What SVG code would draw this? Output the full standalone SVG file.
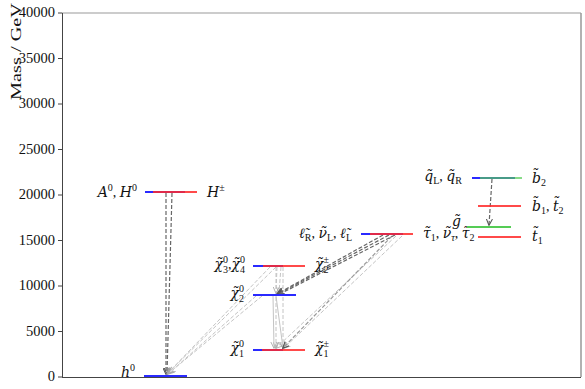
<svg xmlns="http://www.w3.org/2000/svg" width="585" height="389" viewBox="0 0 585 389">
<style>
text{font-family:"Liberation Serif","DejaVu Serif",serif;font-size:14px;fill:#111}
.tick{font-size:14.5px}
.m{font-style:italic;font-family:"DejaVu Serif",serif;font-size:14px}
.sp,.sb{font-size:10px}
.lv{stroke-width:2;fill:none}
.b{stroke:#2a2aff}
.r{stroke:#ff2a2a;stroke-opacity:0.85}
.g{stroke:#55cc55}
.gt{stroke:#55cc55;stroke-opacity:0.7}
.dk{stroke:#666;stroke-width:1.2;stroke-dasharray:4 2;fill:none;marker-end:url(#ad)}
.lt{stroke:#c4c4c4;stroke-width:1;stroke-dasharray:4 2;fill:none;marker-end:url(#al)}
.ls{stroke:#c4c4c4;stroke-width:1;fill:none;marker-end:url(#al)}
</style>
<defs>
<marker id="ad" viewBox="0 0 8 8" refX="7" refY="4" markerWidth="7" markerHeight="7" markerUnits="userSpaceOnUse" orient="auto"><path d="M0,0.5 L7.5,4 L0,7.5" fill="none" stroke="#555" stroke-width="1.2"/></marker>
<marker id="al" viewBox="0 0 8 8" refX="7" refY="4" markerWidth="7" markerHeight="7" markerUnits="userSpaceOnUse" orient="auto"><path d="M0,0.5 L7.5,4 L0,7.5" fill="none" stroke="#aaa" stroke-width="1"/></marker>
</defs>
<rect width="585" height="389" fill="#fff"/>
<g id="axes">
<line x1="62" y1="13" x2="581" y2="13" stroke="#999" stroke-width="1"/>
<line x1="581" y1="13" x2="581" y2="377" stroke="#999" stroke-width="1.5"/>
<line x1="62" y1="377.5" x2="581" y2="377.5" stroke="#444" stroke-width="1"/>
<line x1="62.5" y1="13" x2="62.5" y2="378" stroke="#444" stroke-width="1"/>
<g stroke="#444" stroke-width="1">
<line x1="58" y1="377" x2="62" y2="377"/><line x1="58" y1="331.5" x2="62" y2="331.5"/><line x1="58" y1="286" x2="62" y2="286"/><line x1="58" y1="240.5" x2="62" y2="240.5"/><line x1="58" y1="195" x2="62" y2="195"/><line x1="58" y1="149.5" x2="62" y2="149.5"/><line x1="58" y1="104" x2="62" y2="104"/><line x1="58" y1="58.5" x2="62" y2="58.5"/><line x1="58" y1="13" x2="62" y2="13"/>
</g>
<g class="tick" text-anchor="end">
<text class="tick" x="55" y="381">0</text>
<text class="tick" x="55" y="335.5">5000</text>
<text class="tick" x="55" y="290">10000</text>
<text class="tick" x="55" y="244.5">15000</text>
<text class="tick" x="55" y="199">20000</text>
<text class="tick" x="55" y="153.5">25000</text>
<text class="tick" x="55" y="108">30000</text>
<text class="tick" x="55" y="62.5">35000</text>
<text class="tick" x="55" y="17">40000</text>
</g>
<text x="0" y="0" transform="translate(21,100) rotate(-90)" font-size="18" textLength="97" lengthAdjust="spacingAndGlyphs">Mass / GeV</text>
</g>
<g id="connectors">
<path class="dk" d="M166,193 L166,374"/>
<path class="dk" d="M172,193 L167,374"/>
<path class="lt" d="M270,267 L167,374"/>
<path class="lt" d="M276,267 L168,373"/>
<path class="lt" d="M256,296 L168,374"/>
<path class="lt" d="M262,296 L169,373"/>
<path class="lt" d="M277,267 L276,293"/>
<path class="lt" d="M281,267 L279,293"/>
<path class="lt" d="M276,267 L276,348"/>
<path class="lt" d="M283,267 L283,348"/>
<path class="ls" d="M273,296 L274,348"/>
<path class="ls" d="M276,296 L283,348"/>
<path class="lt" d="M396,236 L276,348"/>
<path class="lt" d="M402,236 L284,348"/>
<path class="dk" style="stroke:#999" d="M392,236 L283,348"/>
<path class="dk" d="M383,235 L277,294"/>
<path class="dk" d="M389,235 L278,294"/>
<path class="dk" d="M395,235 L278,295"/>
<path class="dk" d="M492,179 L489,225"/>
</g>
<g id="n-H">
<line class="lv b" x1="145" y1="192" x2="185" y2="192"/>
<line class="lv r" x1="153" y1="192" x2="197" y2="192"/>
<text x="137" y="197" text-anchor="end"><tspan class="m">A</tspan><tspan class="sp" dy="-6">0</tspan><tspan dy="6">, </tspan><tspan class="m">H</tspan><tspan class="sp" dy="-6">0</tspan></text>
<text x="207" y="197"><tspan class="m">H</tspan><tspan class="sp" dy="-6">±</tspan></text>
</g>
<g id="n-h0">
<line class="lv b" x1="144" y1="376" x2="187" y2="376"/>
<text x="135" y="377" text-anchor="end"><tspan class="m">h</tspan><tspan class="sp" dy="-6">0</tspan></text>
</g>
<g id="n-chi34">
<line class="lv b" x1="253" y1="266" x2="283" y2="266"/>
<line class="lv r" x1="263" y1="266" x2="305" y2="266"/>
<text x="245" y="269" text-anchor="end"><tspan class="m">χ̃</tspan><tspan class="sp" dy="-6">0</tspan><tspan class="sb" dx="-5" dy="10">3</tspan><tspan dy="-4">,</tspan><tspan class="m">χ̃</tspan><tspan class="sp" dy="-6">0</tspan><tspan class="sb" dx="-5" dy="10">4</tspan></text>
<text x="315" y="269"><tspan class="m">χ̃</tspan><tspan class="sp" dy="-6">±</tspan><tspan class="sb" dx="-5.6" dy="10">2</tspan></text>
</g>
<g id="n-chi2">
<line class="lv b" x1="253" y1="295" x2="296" y2="295"/>
<text x="244" y="298" text-anchor="end"><tspan class="m">χ̃</tspan><tspan class="sp" dy="-6">0</tspan><tspan class="sb" dx="-5" dy="10">2</tspan></text>
</g>
<g id="n-chi1">
<line class="lv b" x1="253" y1="350" x2="283" y2="350"/>
<line class="lv r" x1="262" y1="350" x2="305" y2="350"/>
<text x="244" y="353" text-anchor="end"><tspan class="m">χ̃</tspan><tspan class="sp" dy="-6">0</tspan><tspan class="sb" dx="-5" dy="10">1</tspan></text>
<text x="315" y="353"><tspan class="m">χ̃</tspan><tspan class="sp" dy="-6">±</tspan><tspan class="sb" dx="-5.6" dy="10">1</tspan></text>
</g>
<g id="n-slepton">
<line class="lv b" x1="361" y1="234" x2="403" y2="234"/>
<line class="lv r" x1="370" y1="234" x2="413" y2="234"/>
<text x="352" y="238" text-anchor="end"><tspan class="m">ℓ̃</tspan><tspan class="sb" dy="3">R</tspan><tspan dy="-3">, </tspan><tspan class="m">ν̃</tspan><tspan class="sb" dy="3">L</tspan><tspan dy="-3">, </tspan><tspan class="m">ℓ̃</tspan><tspan class="sb" dy="3">L</tspan></text>
<text x="423" y="238"><tspan class="m">τ̃</tspan><tspan class="sb" dy="3">1</tspan><tspan dy="-3">, </tspan><tspan class="m">ν̃</tspan><tspan class="sb" font-style="italic" dy="3">τ</tspan><tspan dy="-3">, </tspan><tspan class="m">τ̃</tspan><tspan class="sb" dy="3">2</tspan></text>
</g>
<g id="n-squark">
<line class="lv b" x1="472" y1="178" x2="515" y2="178"/>
<line class="lv gt" x1="480" y1="178" x2="522" y2="178"/>
<text x="462" y="181" text-anchor="end"><tspan class="m">q̃</tspan><tspan class="sb" dy="3">L</tspan><tspan dy="-3">, </tspan><tspan class="m">q̃</tspan><tspan class="sb" dy="3">R</tspan></text>
<text x="532" y="183"><tspan class="m">b̃</tspan><tspan class="sb" dy="3">2</tspan></text>
</g>
<g id="n-b1t2">
<line class="lv r" x1="478" y1="206" x2="521" y2="206"/>
<text x="532" y="211"><tspan class="m">b̃</tspan><tspan class="sb" dy="3">1</tspan><tspan dy="-3">, </tspan><tspan class="m">t̃</tspan><tspan class="sb" dy="3">2</tspan></text>
</g>
<g id="n-gluino">
<line class="lv g" x1="467" y1="227" x2="511" y2="227"/>
<text x="461" y="226" text-anchor="end"><tspan class="m">g̃</tspan></text>
</g>
<g id="n-t1">
<line class="lv r" x1="478" y1="237" x2="521" y2="237"/>
<text x="532" y="241"><tspan class="m">t̃</tspan><tspan class="sb" dy="3">1</tspan></text>
</g>
</svg>
